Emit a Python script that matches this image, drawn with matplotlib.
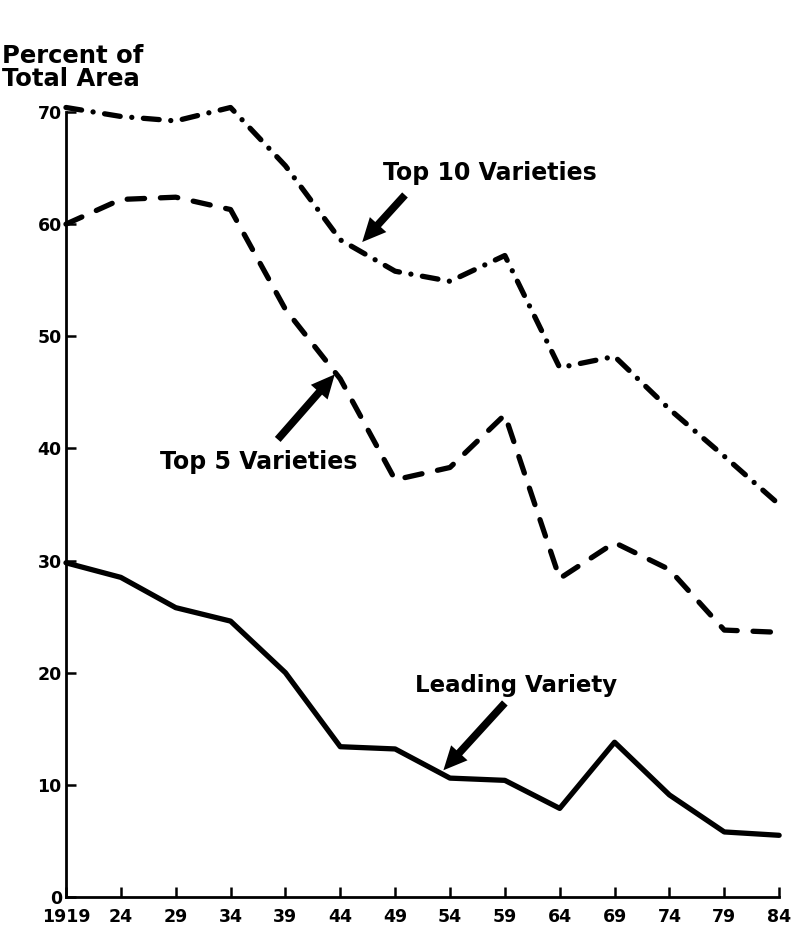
import matplotlib
matplotlib.use("Agg")
import matplotlib.pyplot as plt

plt.rcParams['font.family'] = ['DejaVu Sans']
plt.rcParams['font.weight'] = 'bold'

years = [1919, 1924, 1929, 1934, 1939, 1944, 1949, 1954, 1959, 1964, 1969, 1974, 1979, 1984]
year_labels = ['1919', '24', '29', '34', '39', '44', '49', '54', '59', '64', '69', '74', '79', '84']
top10 = [70.4, 69.6, 69.2, 70.4, 65.2, 58.6, 55.8, 54.9, 57.2, 47.2, 48.2, 43.5, 39.3, 35.0]
top5 = [60.0, 62.2, 62.4, 61.3, 52.4, 46.2, 37.2, 38.3, 43.0, 28.4, 31.6, 29.2, 23.8, 23.6]
leading = [29.8, 28.5, 25.8, 24.6, 20.0, 13.4, 13.2, 10.6, 10.4, 7.9, 13.8, 9.1, 5.8, 5.5]
y_ticks = [0, 10, 20, 30, 40, 50, 60, 70]

fig = plt.figure(figsize=(7.91, 9.30), dpi=100)
ax = fig.add_axes([0.0834, 0.0355, 0.9016, 0.8441])

ax.plot(years, top10, color='black', lw=3.8, linestyle=(0, (3.0, 2.2, 0.01, 2.2)),
        dash_capstyle='round', solid_joinstyle='round', clip_on=False)
ax.plot(years, top5, color='black', lw=3.8, linestyle=(0, (3.3, 3.0)),
        dash_capstyle='round', clip_on=False)
ax.plot(years, leading, color='black', lw=3.8, solid_joinstyle='round',
        solid_capstyle='round', clip_on=False)

ax.set_xlim(1919, 1984)
ax.set_ylim(0, 70)
ax.set_xticks(years)
ax.set_xticklabels(year_labels)
ax.set_yticks(y_ticks)
ax.tick_params(direction='in', length=7, width=1.8, labelsize=12.5, pad=8)
ax.tick_params(axis='y', pad=3)
for lab in ax.get_xticklabels() + ax.get_yticklabels():
    lab.set_fontweight('bold')
ax.spines['top'].set_visible(False)
ax.spines['right'].set_visible(False)
ax.spines['left'].set_linewidth(2)
ax.spines['bottom'].set_linewidth(2)

# filled arrows like the hand-drawn ones
arrow = dict(arrowstyle='simple,head_length=1.7,head_width=1.6,tail_width=0.55',
             mutation_scale=10, color='black', lw=0, shrinkA=0, shrinkB=0)
ax.annotate('', xy=(1946.0, 58.4), xytext=(1949.9, 62.6), arrowprops=arrow)
ax.annotate('', xy=(1943.5, 46.6), xytext=(1938.3, 40.8), arrowprops=arrow)
ax.annotate('', xy=(1953.4, 11.3), xytext=(1959.0, 17.3), arrowprops=arrow)

ax.text(1947.9, 64.6, 'Top 10 Varieties', fontsize=17, fontweight='bold', va='center')
ax.text(1927.6, 38.75, 'Top 5 Varieties', fontsize=17, fontweight='bold', va='center')
ax.text(1950.8, 18.9, 'Leading Variety', fontsize=16.5, fontweight='bold', va='center')

fig.text(0.003, 1 - 44 / 930, 'Percent of\nTotal Area', fontsize=17.5, fontweight='bold',
         va='top', ha='left', linespacing=0.95)

fig.savefig('out.png', dpi=100)
